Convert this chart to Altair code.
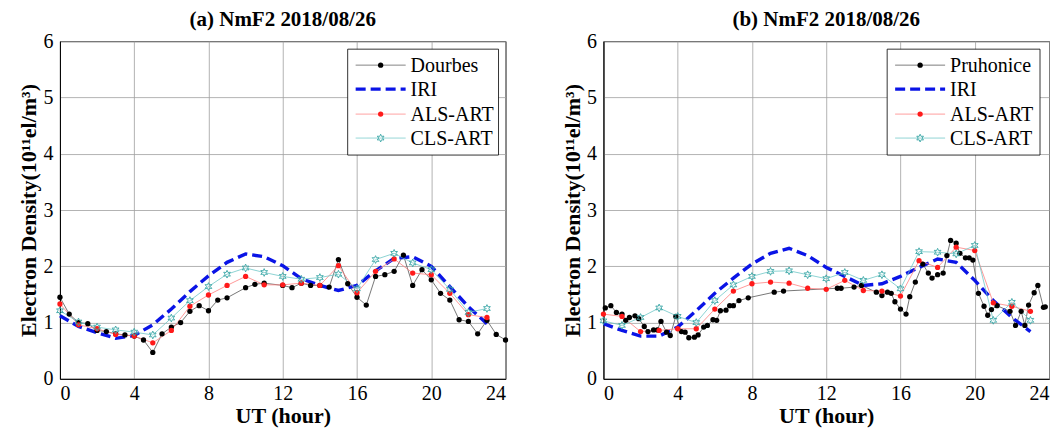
import altair as alt
import pandas as pd

# ---------------- data: panel (a) Dourbes ----------------
a_obs_x = [0, 0.5, 1.0, 1.5, 2.0, 2.5, 3.0, 3.5, 4.0, 4.5, 5.0, 5.5, 6.0, 6.5, 7.0, 7.5, 8.0, 8.5, 9.0,
           10.0, 10.5, 11.0, 12.0, 12.5, 13.0, 13.5, 14.0, 14.5, 15.0, 15.5, 16.0, 16.5, 17.0, 17.5, 18.0,
           18.5, 19.0, 19.5, 20.0, 20.5, 21.0, 21.5, 22.0, 22.5, 23.0, 23.5, 24.0]
a_obs_y = [1.45, 1.15, 1.0, 0.98, 0.86, 0.84, 0.80, 0.78, 0.76, 0.69, 0.47, 0.80, 0.92, 1.0, 1.2, 1.3, 1.21, 1.4, 1.44,
           1.62, 1.68, 1.70, 1.66, 1.62, 1.70, 1.66, 1.66, 1.63, 2.12, 1.69, 1.45, 1.31, 1.82, 1.85, 1.91,
           2.2, 1.66, 1.94, 1.76, 1.52, 1.4, 1.05, 1.02, 0.8, 1.04, 0.79, 0.69]
hours = [float(h) for h in range(0, 24)]
a_iri = [1.12, 0.93, 0.82, 0.72, 0.77, 0.96, 1.24, 1.55, 1.83, 2.07, 2.22, 2.17, 2.01, 1.78,
         1.66, 1.57, 1.66, 1.92, 2.14, 2.17, 2.0, 1.64, 1.28, 0.98]
a_als = [1.33, 0.96, 0.89, 0.79, 0.76, 0.64, 0.86, 1.29, 1.49, 1.66, 1.82, 1.67, 1.67, 1.70,
         1.66, 2.01, 1.53, 1.91, 2.13, 1.88, 1.85, 1.52, 1.14, 1.09]
a_cls = [1.21, 1.01, 0.92, 0.87, 0.83, 0.78, 1.08, 1.39, 1.64, 1.86, 1.97, 1.89, 1.82, 1.77,
         1.80, 1.86, 1.60, 2.12, 2.23, 2.06, 1.94, 1.59, 1.18, 1.25]

# ---------------- data: panel (b) Pruhonice ----------------
b_obs_x = [0.1, 0.4, 0.7, 1.0, 1.2, 1.4, 1.7, 1.9, 2.2, 2.4, 2.7, 2.9, 3.1, 3.4, 3.6, 3.9, 4.2, 4.4, 4.6, 4.9,
           5.1, 5.4, 5.6, 5.9, 6.1, 6.3, 6.6, 6.8, 7.0, 7.3, 7.8, 9.2, 9.7, 12.6, 12.8, 13.5, 13.9, 14.7,
           15.0, 15.3, 15.5, 15.7, 16.0, 16.3, 16.5, 16.8, 17.2, 17.5, 17.7, 18.0, 18.3, 18.5, 18.7, 19.0,
           19.2, 19.5, 19.7, 19.9, 20.2, 20.5, 20.7, 20.9, 21.2, 21.9, 22.2, 22.5, 22.7, 22.9, 23.2, 23.4,
           23.7, 23.8]
b_obs_y = [1.26, 1.30, 1.18, 1.15, 1.04, 1.09, 1.12, 1.07, 0.93, 0.84, 0.87, 0.87, 1.02, 0.83, 0.77, 1.11,
           0.84, 0.83, 0.73, 0.74, 0.78, 0.92, 0.95, 1.05, 1.04, 1.21, 1.22, 1.30, 1.30, 1.39, 1.44, 1.54,
           1.56, 1.61, 1.61, 1.63, 1.66, 1.54, 1.48, 1.54, 1.52, 1.37, 1.24, 1.15, 1.46, 1.72, 2.04, 1.88,
           1.79, 1.85, 1.88, 2.19, 2.46, 2.41, 2.23, 2.15, 2.15, 2.11, 1.52, 1.29, 1.13, 1.23, 1.30, 1.20,
           0.95, 1.20, 0.95, 1.31, 1.53, 1.66, 1.27, 1.28]
b_iri = [0.98, 0.86, 0.76, 0.76, 0.92, 1.21, 1.52, 1.79, 2.04, 2.23, 2.32, 2.19, 1.98, 1.82,
         1.66, 1.69, 1.82, 1.98, 2.13, 2.07, 1.75, 1.39, 1.09, 0.84]
b_als = [1.15, 1.11, 0.84, 0.86, 0.89, 0.89, 1.24, 1.56, 1.69, 1.72, 1.70, 1.61, 1.59, 1.75,
         1.57, 1.56, 1.47, 2.10, 1.98, 2.34, 2.28, 1.35, 1.29, 1.20]
b_cls = [1.03, 0.95, 1.09, 1.26, 1.11, 1.00, 1.39, 1.67, 1.82, 1.91, 1.92, 1.85, 1.78, 1.89,
         1.75, 1.85, 1.60, 2.26, 2.25, 2.22, 2.37, 1.04, 1.36, 1.04]

FONT = "Liberation Serif"
BLACK, BLUE, RED, TEAL = "#000000", "#0a14e6", "#ff1a1a", "#3aa6a6"
LINE_OBS, LINE_ALS, LINE_CLS = "#555555", "#ff8080", "#70c8c8"
HEXAGRAM = ("M0,-1L0.25,-0.433L0.866,-0.5L0.5,0L0.866,0.5L0.25,0.433L0,1L-0.25,0.433"
            "L-0.866,0.5L-0.5,0L-0.866,-0.5L-0.25,-0.433Z")
W, H = 446, 338


def series_df(xs, ys):
    return pd.DataFrame({"hour": [float(v) for v in xs], "val": [float(v) for v in ys]})


def panel(title, station, ox, oy, iri, als, cls, bx0, bx1):
    xenc = alt.X("hour:Q", scale=alt.Scale(domain=[0, 24], nice=False),
                 axis=alt.Axis(values=[0, 4, 8, 12, 16, 20, 24], title="UT (hour)"))
    yenc = alt.Y("val:Q", scale=alt.Scale(domain=[0, 6], nice=False),
                 axis=alt.Axis(values=[0, 1, 2, 3, 4, 5, 6], format="d",
                               title="Electron Density(10¹¹el/m³)"))

    d_obs = series_df(ox, oy)
    d_iri = series_df(hours, iri)
    d_als = series_df(hours, als)
    d_cls = series_df(hours, cls)

    l_obs = alt.Chart(d_obs).mark_line(color=LINE_OBS, strokeWidth=0.8).encode(x=xenc, y=yenc)
    l_iri = alt.Chart(d_iri).mark_line(color=BLUE, strokeWidth=3.4, strokeDash=[10, 5]).encode(x="hour:Q", y="val:Q")
    l_als = alt.Chart(d_als).mark_line(color=LINE_ALS, strokeWidth=0.8).encode(x="hour:Q", y="val:Q")
    l_cls = alt.Chart(d_cls).mark_line(color=LINE_CLS, strokeWidth=0.8).encode(x="hour:Q", y="val:Q")
    p_obs = alt.Chart(d_obs).mark_circle(size=28, color=BLACK, opacity=1).encode(x="hour:Q", y="val:Q")
    p_als = alt.Chart(d_als).mark_circle(size=28, color=RED, opacity=1).encode(x="hour:Q", y="val:Q")
    p_cls = alt.Chart(d_cls).mark_point(filled=False, shape=HEXAGRAM, size=60, color=TEAL,
                                        strokeWidth=0.9, opacity=1).encode(x="hour:Q", y="val:Q")

    # legend box (drawn inside the plot, top-right)
    names = [station, "IRI", "ALS-ART", "CLS-ART"]
    by0, by1 = 8, 114
    rows_y = [24, 48, 73, 97]
    one = pd.DataFrame({"k": [0]})
    leg = [alt.Chart(one).mark_rect(fill="white", stroke="black", strokeWidth=0.8).encode(
        x=alt.value(bx0), x2=alt.value(bx1), y=alt.value(by0), y2=alt.value(by1))]
    styles = [(LINE_OBS, 0.8, [1, 0]), (BLUE, 3.4, [10, 5]), (LINE_ALS, 0.8, [1, 0]), (LINE_CLS, 0.8, [1, 0])]
    for i, name in enumerate(names):
        col, sw, dash = styles[i]
        ldf = pd.DataFrame({"label": [name]})
        yy = rows_y[i]
        leg.append(alt.Chart(ldf).mark_rule(color=col, strokeWidth=sw, strokeDash=dash).encode(
            x=alt.value(bx0 + 8), x2=alt.value(bx0 + 58), y=alt.value(yy)))
        leg.append(alt.Chart(ldf).mark_text(align="left", baseline="middle", font=FONT, fontSize=20,
                                            color="black").encode(
            x=alt.value(bx0 + 63), y=alt.value(yy + 1), text="label:N"))
    leg.append(alt.Chart(pd.DataFrame({"label": [station]})).mark_circle(size=28, color=BLACK, opacity=1).encode(
        x=alt.value(bx0 + 33), y=alt.value(rows_y[0])))
    leg.append(alt.Chart(pd.DataFrame({"label": ["ALS-ART"]})).mark_circle(size=28, color=RED, opacity=1).encode(
        x=alt.value(bx0 + 33), y=alt.value(rows_y[2])))
    leg.append(alt.Chart(pd.DataFrame({"label": ["CLS-ART"]})).mark_point(
        filled=False, shape=HEXAGRAM, size=60, color=TEAL, strokeWidth=0.9, opacity=1).encode(
        x=alt.value(bx0 + 33), y=alt.value(rows_y[3])))

    return alt.layer(l_obs, l_iri, l_als, l_cls, p_obs, p_als, p_cls, *leg).properties(
        width=W, height=H, title=title)


left = panel("(a) NmF2 2018/08/26", "Dourbes", a_obs_x, a_obs_y, a_iri, a_als, a_cls, 288, 439)
right = panel("(b) NmF2 2018/08/26", "Pruhonice", b_obs_x, b_obs_y, b_iri, b_als, b_cls, 284, 437)

chart = alt.hconcat(left, right, spacing=51).properties(
    padding={"left": 9, "top": 0, "right": 2, "bottom": 0}
).configure_view(
    stroke="black", strokeWidth=1
).configure_title(
    font=FONT, fontSize=21, fontWeight="bold", color="black", offset=1
).configure_axis(
    labelFont=FONT, labelFontSize=20, labelColor="black", titleFont=FONT, titleFontSize=22,
    titleFontWeight="bold", titleColor="black", gridColor="#a0a0a0", gridWidth=0.8,
    domainColor="black", tickColor="black", tickSize=0, labelPadding=4,
).configure_axisY(titleFontSize=22, titlePadding=2, labelPadding=7).configure_axisX(
    titlePadding=2, labelPadding=5)

chart.save("out.html", embed_options={"renderer": "svg", "actions": False})
